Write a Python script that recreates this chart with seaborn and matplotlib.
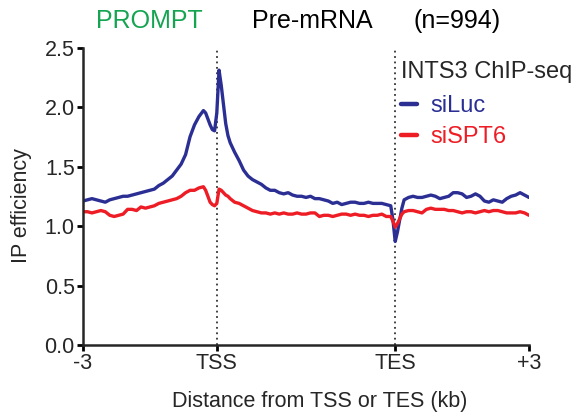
"""
INTS3 ChIP-seq metagene profile (siLuc vs siSPT6)
"""

import pandas as pd
import matplotlib
matplotlib.use("Agg")
import matplotlib.pyplot as plt
import seaborn as sns

# ─── DATA ────────────────────────────────────────────────────────────────────
# x: metagene bins. 0-30 = 3 kb upstream of TSS, 30-70 = scaled gene body,
# 70-100 = 3 kb downstream of TES (half bins around TSS / TES)
bins = (
    list(range(0, 28))
    + [27.5, 28, 28.5, 29, 29.5, 30, 30.5, 31, 31.5, 32, 32.5]
    + list(range(33, 70))
    + [69.5, 70, 70.5, 71, 71.5]
    + list(range(72, 101))
)

si_luc = [
    1.21, 1.22, 1.23, 1.22, 1.21, 1.20, 1.22, 1.23, 1.24, 1.25,
    1.25, 1.26, 1.27, 1.28, 1.29, 1.30, 1.31, 1.34, 1.36, 1.39,
    1.42, 1.47, 1.52, 1.60, 1.75, 1.85, 1.92, 1.97,
    1.95, 1.90, 1.85, 1.81, 1.80, 1.95, 2.31, 2.18, 2.02, 1.86, 1.76,
    1.70, 1.62, 1.55, 1.47, 1.42, 1.39, 1.37, 1.35, 1.32, 1.30,
    1.30, 1.28, 1.27, 1.28, 1.26, 1.25, 1.25, 1.24, 1.25, 1.23,
    1.23, 1.22, 1.21, 1.19, 1.20, 1.18, 1.19, 1.20, 1.20, 1.19,
    1.19, 1.20, 1.19, 1.19, 1.19, 1.18, 1.17,
    1.05, 0.87, 0.95, 1.05, 1.15,
    1.22, 1.24, 1.25, 1.24, 1.24, 1.25, 1.26, 1.25, 1.23, 1.24,
    1.25, 1.28, 1.28, 1.27, 1.24, 1.25, 1.27, 1.25, 1.21, 1.20,
    1.22, 1.21, 1.20, 1.23, 1.25, 1.26, 1.28, 1.26, 1.24,
]

si_spt6 = [
    1.12, 1.12, 1.11, 1.12, 1.13, 1.12, 1.09, 1.08, 1.09, 1.10,
    1.14, 1.14, 1.13, 1.16, 1.15, 1.16, 1.17, 1.19, 1.20, 1.21,
    1.22, 1.23, 1.25, 1.28, 1.30, 1.30, 1.32, 1.33,
    1.30, 1.25, 1.20, 1.18, 1.17, 1.19, 1.31, 1.30, 1.28, 1.26, 1.25,
    1.23, 1.20, 1.19, 1.17, 1.15, 1.13, 1.12, 1.11, 1.11, 1.10,
    1.11, 1.10, 1.11, 1.10, 1.10, 1.11, 1.10, 1.10, 1.11, 1.11,
    1.08, 1.09, 1.09, 1.08, 1.09, 1.10, 1.10, 1.09, 1.10, 1.09,
    1.09, 1.08, 1.09, 1.09, 1.10, 1.08, 1.08,
    1.04, 0.99, 1.02, 1.06, 1.10,
    1.12, 1.13, 1.13, 1.12, 1.11, 1.14, 1.15, 1.14, 1.14, 1.14,
    1.13, 1.13, 1.12, 1.11, 1.12, 1.12, 1.11, 1.12, 1.13, 1.12,
    1.13, 1.13, 1.12, 1.11, 1.11, 1.11, 1.12, 1.11, 1.09,
]

tick_pos    = [0, 30, 70, 100]
tick_labels = ["-3", "TSS", "TES", "+3"]

BLUE  = "#2B2F93"
RED   = "#EE1C25"
GREEN = "#14A452"

# ─── STYLE ───────────────────────────────────────────────────────────────────
sns.set_style("ticks")
plt.rcParams["font.family"] = ["Liberation Sans", "DejaVu Sans"]

df = pd.DataFrame({
    "bin":    bins * 2,
    "value":  si_luc + si_spt6,
    "sample": ["siLuc"] * len(bins) + ["siSPT6"] * len(bins),
})

fig = plt.figure(figsize=(5.87, 4.12), dpi=100)
ax = fig.add_axes([0.1414, 0.1626, 0.7598, 0.7221])

sns.lineplot(data=df, x="bin", y="value", hue="sample",
             palette={"siLuc": BLUE, "siSPT6": RED},
             lw=2.4, errorbar=None, ax=ax)

# TSS / TES markers
for p in (30, 70):
    ax.axvline(p, color="#333333", lw=1.3, ls=(0, (1, 2)), zorder=0)

ax.set_xlim(0, 100)
ax.set_ylim(0, 2.5)
ax.set_xticks(tick_pos)
ax.set_xticklabels(tick_labels)
ax.set_yticks([0, 0.5, 1.0, 1.5, 2.0, 2.5])
ax.set_yticklabels(["0.0", "0.5", "1.0", "1.5", "2.0", "2.5"])
ax.tick_params(labelsize=15.5, width=2, length=4, color="black", pad=2)
for s in ("left", "bottom"):
    ax.spines[s].set_linewidth(1.8)
sns.despine(ax=ax)

ax.set_xlabel("Distance from TSS or TES (kb)", fontsize=15.5)
ax.set_ylabel("IP efficiency", fontsize=15.5)
ax.xaxis.set_label_coords(0.531, -0.155)
ax.yaxis.set_label_coords(-0.115, 0.47)

leg = ax.legend(title="INTS3 ChIP-seq", loc="upper left",
                bbox_to_anchor=(0.712, 0.955), borderaxespad=0, borderpad=0,
                frameon=False, fontsize=17, title_fontsize=17,
                handlelength=0.7, handletextpad=0.55, labelspacing=0.38,
                alignment="left", labelcolor="linecolor")
leg._legend_box.sep = 9
for h in leg.legend_handles:
    h.set_linewidth(3.2)

fig.text(0.254, 0.948, "PROMPT", color=GREEN, fontsize=18, ha="center", va="center")
fig.text(0.5315, 0.948, "Pre-mRNA", color="black", fontsize=18, ha="center", va="center")
fig.text(0.7785, 0.948, "(n=994)", color="black", fontsize=18, ha="center", va="center")

plt.savefig("out.png", dpi=100)
plt.close()
